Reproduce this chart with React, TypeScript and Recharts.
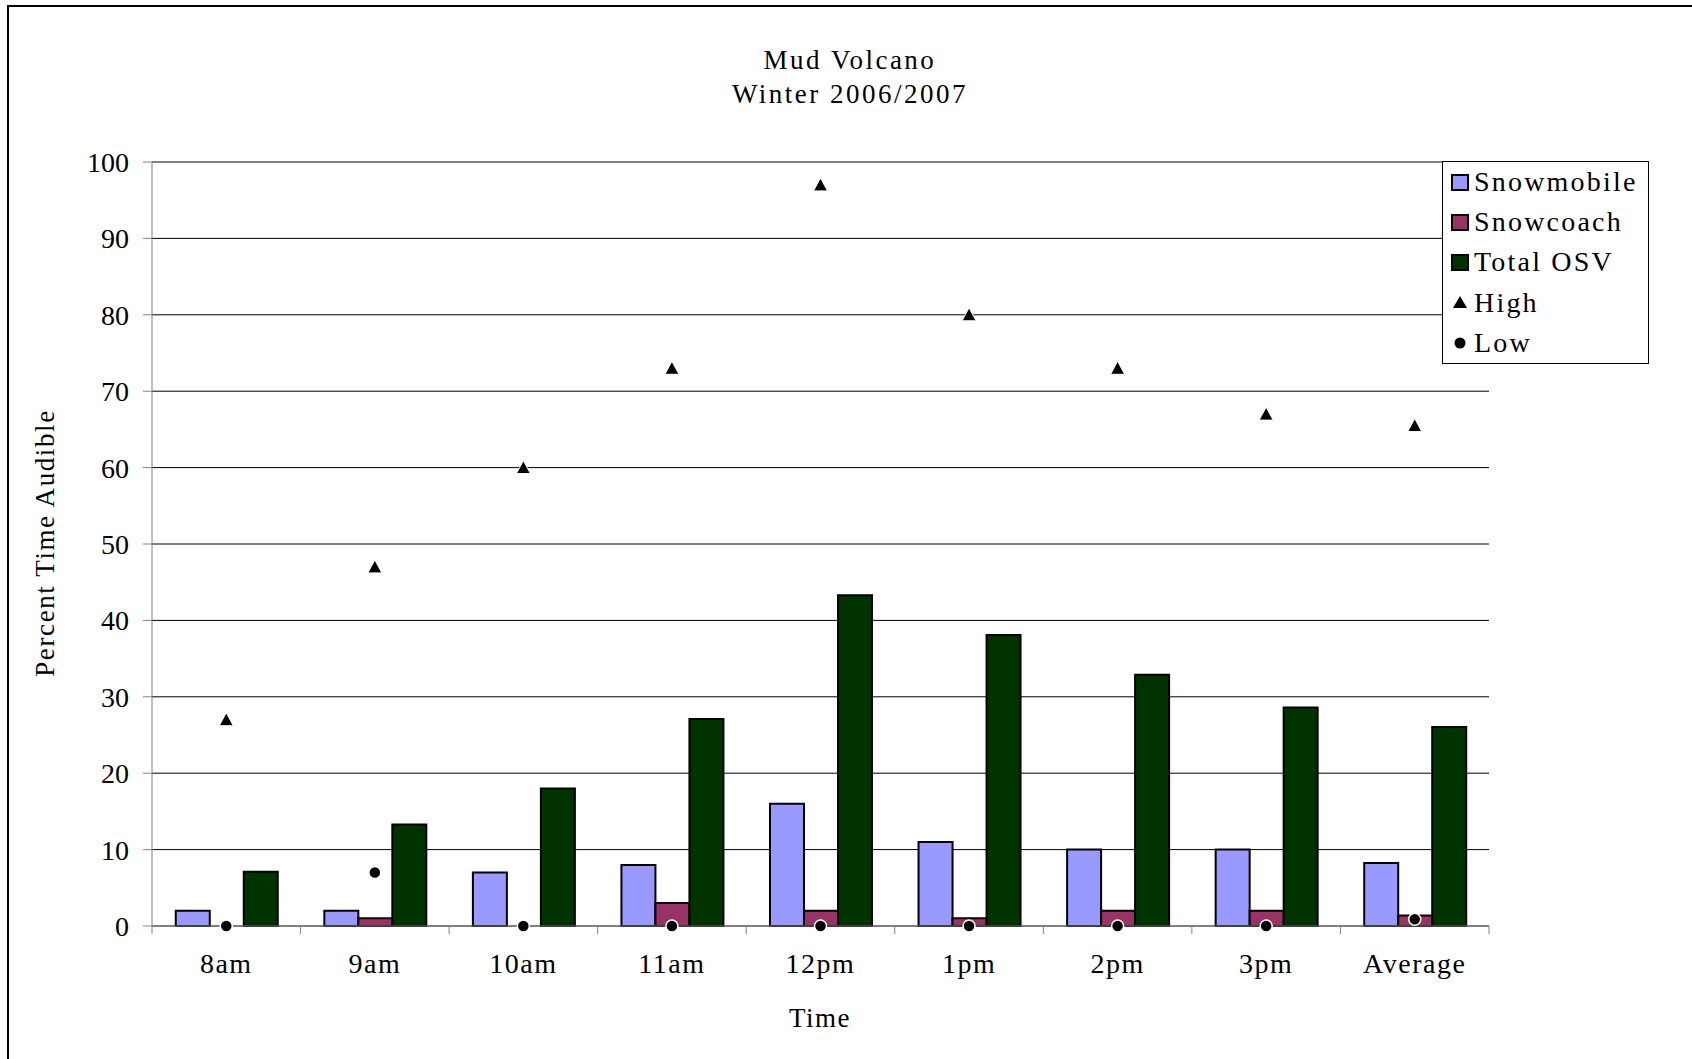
import { Bar, CartesianGrid, ComposedChart, Line, XAxis, YAxis } from "recharts";

const times = ["8am", "9am", "10am", "11am", "12pm", "1pm", "2pm", "3pm", "Average"];
const snowmobile = [2, 2, 7, 8, 16, 11, 10, 10, 8.25];
const snowcoach = [0, 1, 0, 3, 2, 1, 2, 2, 1.375];
const totalOsv = [7.1, 13.3, 18, 27.1, 43.3, 38.1, 32.9, 28.6, 26.05];
const high = [27, 47, 60, 73, 97, 80, 73, 67, 65.5];
const low = [0, 7, 0, 0, 0, 0, 0, 0, 0.875];
const yTicks = [0, 10, 20, 30, 40, 50, 60, 70, 80, 90, 100];

const data = times.map((time, i) => ({
  time,
  snowmobile: snowmobile[i],
  snowcoach: snowcoach[i],
  totalOsv: totalOsv[i],
  high: high[i],
  low: low[i],
}));

const FONT = '"Liberation Serif", "Times New Roman", serif';
const AXIS_GRAY = "#808080";
const COLORS = { snowmobile: "#9999ff", snowcoach: "#993366", totalOsv: "#003300" };

const W = 1692;
const H = 1059;
const MARGIN = { top: 162, right: 203, bottom: 73, left: 12 };
const Y_AXIS_W = 140;
const X_AXIS_H = 60;
const BAND = (W - MARGIN.left - Y_AXIS_W - MARGIN.right) / times.length;

// category labels centred in each band, tick marks on the band edges
const TimeTick = (props: any) => {
  const { x, y, payload, index } = props;
  const half = BAND / 2;
  return (
    <g>
      <line x1={x - half} x2={x - half} y1={y - 8} y2={y} stroke={AXIS_GRAY} />
      {index === times.length - 1 && (
        <line x1={x + half} x2={x + half} y1={y - 8} y2={y} stroke={AXIS_GRAY} />
      )}
      <text
        x={x}
        y={y + 39}
        textAnchor="middle"
        fontFamily={FONT}
        fontSize={28}
        letterSpacing={1.5}
        fill="#000"
      >
        {payload.value}
      </text>
    </g>
  );
};

const TriangleDot = (props: any) => {
  const { cx, cy, index } = props;
  if (cx == null || cy == null) return <g key={`h-${index}`} />;
  return (
    <path
      key={`h-${index}`}
      d={`M${cx},${cy - 7} L${cx + 7},${cy + 6} L${cx - 7},${cy + 6} Z`}
      fill="#000"
      stroke="#fff"
      strokeWidth={1}
    />
  );
};

const CircleDot = (props: any) => {
  const { cx, cy, index } = props;
  if (cx == null || cy == null) return <g key={`l-${index}`} />;
  return <circle key={`l-${index}`} cx={cx} cy={cy} r={6} fill="#000" stroke="#fff" strokeWidth={1.5} />;
};

const legendItems = [
  { name: "Snowmobile", kind: "box", color: COLORS.snowmobile },
  { name: "Snowcoach", kind: "box", color: COLORS.snowcoach },
  { name: "Total OSV", kind: "box", color: COLORS.totalOsv },
  { name: "High", kind: "triangle", color: "#000" },
  { name: "Low", kind: "circle", color: "#000" },
];

const LegendMark = ({ kind, color }: { kind: string; color: string }) => {
  if (kind === "box") {
    return (
      <span
        style={{
          display: "inline-block",
          boxSizing: "border-box",
          width: 18,
          height: 17,
          background: color,
          border: "2px solid #000",
        }}
      />
    );
  }
  return (
    <svg width={18} height={17} style={{ display: "block" }}>
      {kind === "triangle" ? (
        <path d="M9,2 L16,14 L2,14 Z" fill="#000" />
      ) : (
        <circle cx={9} cy={9} r={5.5} fill="#000" />
      )}
    </svg>
  );
};

const ChartLegend = () => (
  <div
    style={{
      position: "absolute",
      left: 1442,
      top: 161,
      width: 207,
      height: 203,
      boxSizing: "border-box",
      border: "1px solid #000",
      background: "#fff",
      paddingTop: 0,
      paddingLeft: 8,
    }}
  >
    {legendItems.map((item) => (
      <div
        key={item.name}
        style={{ display: "flex", alignItems: "center", height: 40.2, fontSize: 28, letterSpacing: 2.2 }}
      >
        <LegendMark kind={item.kind} color={item.color} />
        <span style={{ marginLeft: 5, lineHeight: "40px" }}>{item.name}</span>
      </div>
    ))}
  </div>
);

const App = () => (
  <div
    style={{
      position: "absolute",
      left: 0,
      top: 0,
      width: W,
      height: H,
      overflow: "hidden",
      background: "#fff",
      fontFamily: FONT,
      color: "#000",
    }}
  >
    <div
      style={{
        position: "absolute",
        left: 7,
        top: 5,
        width: 1800,
        height: 1200,
        borderLeft: "2px solid #000",
        borderTop: "2px solid #000",
      }}
    />
    <div
      style={{
        position: "absolute",
        left: 0,
        width: 1700,
        top: 43,
        textAlign: "center",
        fontSize: 27,
        lineHeight: "34px",
        letterSpacing: 2.5,
      }}
    >
      <div>Mud Volcano</div>
      <div>Winter 2006/2007</div>
    </div>

    <div style={{ position: "absolute", left: 0, top: 0 }}>
      <ComposedChart width={W} height={H} data={data} margin={MARGIN} barCategoryGap="16%" barGap={0}>
        <CartesianGrid vertical={false} stroke="#000" strokeWidth={1} />
        <XAxis
          dataKey="time"
          height={X_AXIS_H}
          stroke={AXIS_GRAY}
          tickLine={false}
          tickSize={8}
          tickMargin={0}
          interval={0}
          tick={<TimeTick />}
        />
        <YAxis
          width={Y_AXIS_W}
          domain={[0, 100]}
          ticks={yTicks}
          interval={0}
          stroke={AXIS_GRAY}
          tickSize={9}
          tickMargin={14}
          tick={{ fontFamily: FONT, fontSize: 28, fill: "#000" }}
        />
        <Bar dataKey="snowmobile" fill={COLORS.snowmobile} stroke="#000" strokeWidth={2} isAnimationActive={false} />
        <Bar dataKey="snowcoach" fill={COLORS.snowcoach} stroke="#000" strokeWidth={2} isAnimationActive={false} />
        <Bar dataKey="totalOsv" fill={COLORS.totalOsv} stroke="#000" strokeWidth={2} isAnimationActive={false} />
        <Line dataKey="high" stroke="none" dot={TriangleDot} activeDot={false} isAnimationActive={false} />
        <Line dataKey="low" stroke="none" dot={CircleDot} activeDot={false} isAnimationActive={false} />
      </ComposedChart>
    </div>

    <div
      style={{
        position: "absolute",
        left: 45,
        top: 543,
        transform: "translate(-50%, -50%) rotate(-90deg)",
        whiteSpace: "nowrap",
        fontSize: 27,
        letterSpacing: 1.6,
      }}
    >
      Percent Time Audible
    </div>
    <div
      style={{
        position: "absolute",
        left: 620,
        width: 400,
        top: 1002,
        textAlign: "center",
        fontSize: 27,
        lineHeight: "32px",
        letterSpacing: 1.5,
      }}
    >
      Time
    </div>

    <ChartLegend />
  </div>
);

export default App;
